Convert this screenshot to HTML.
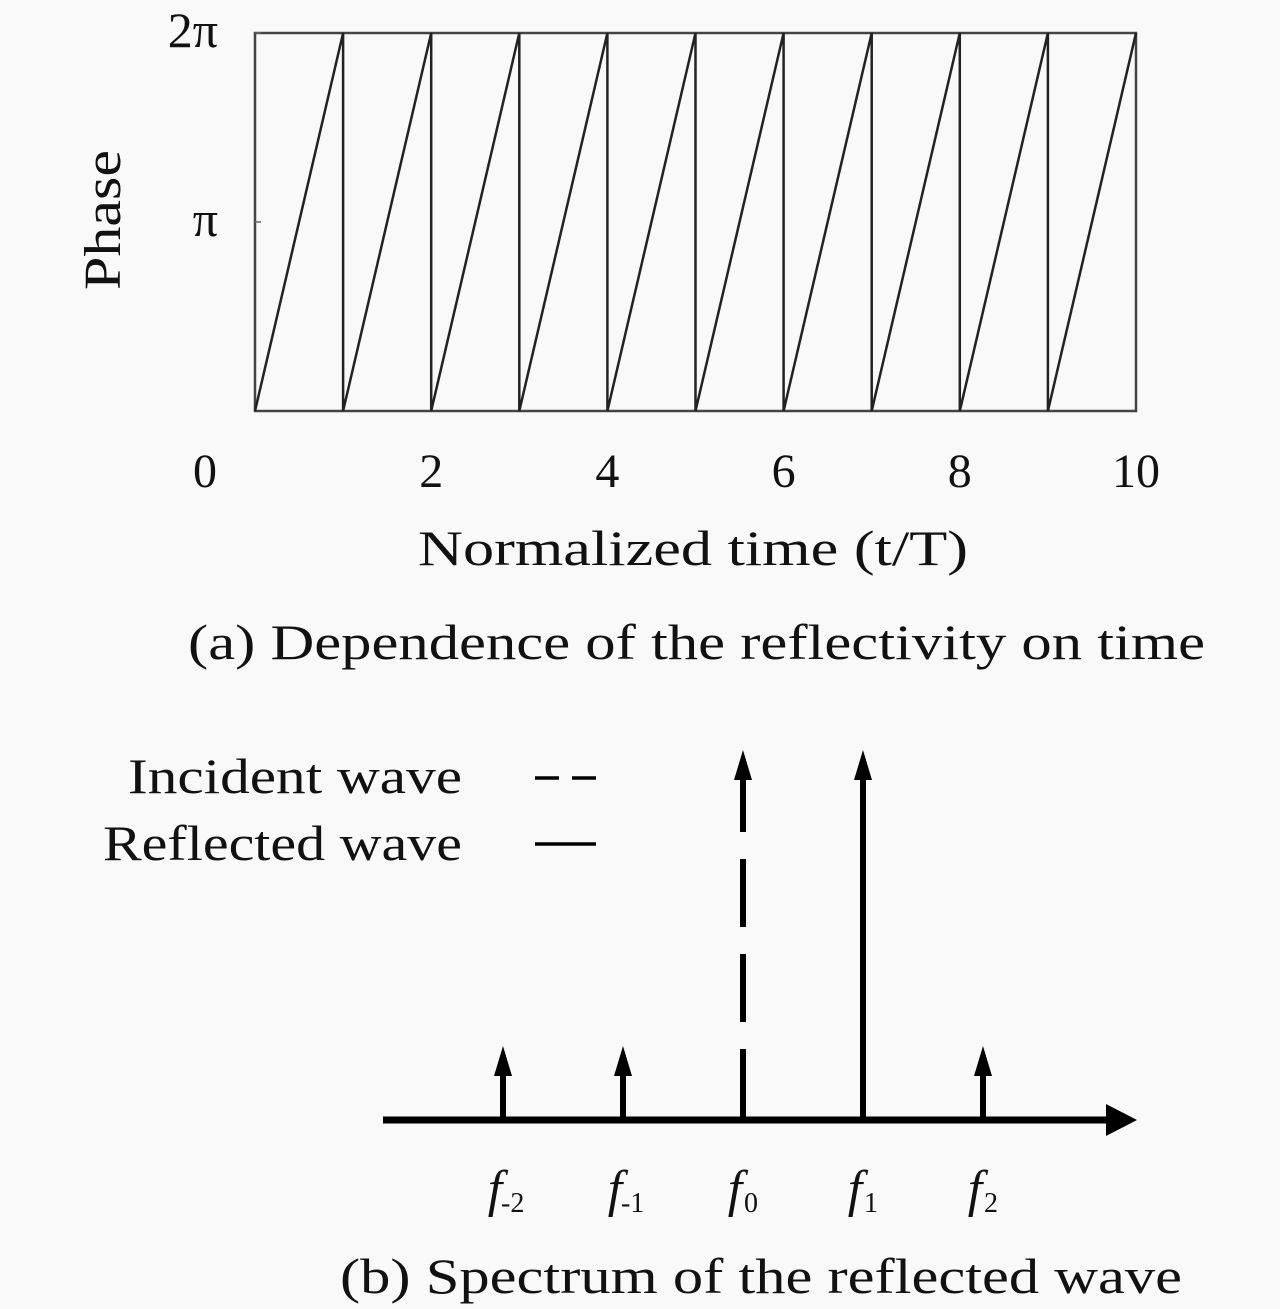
<!DOCTYPE html>
<html><head><meta charset="utf-8">
<style>
html,body{margin:0;padding:0;background:#f9f9f9;}
svg{display:block;}
text{font-family:"Liberation Serif",serif;fill:#111;}
</style></head>
<body>
<svg id="fig" width="1280" height="1309" viewBox="0 0 1280 1309">
<g id="topg"></g>
<g id="botg"></g>
</svg>
<script>
const NS="http://www.w3.org/2000/svg";
// Top chart data
const xTicks=[0,2,4,6,8,10];
const xTickLabels=["0","2","4","6","8","10"];
const yTicks=[Math.PI,2*Math.PI];
const yTickLabels=["π","2π"];
const periods=[0,1,2,3,4,5,6,7,8,9];
const phaseMin=0, phaseMax=2*Math.PI;
// Bottom chart data
const freqLabels=["-2","-1","0","1","2"];
const amplitudes=[0.2,0.2,1,1,0.2];
const isIncident=[false,false,true,false,false];

function mk(tag,attrs,parent){const e=document.createElementNS(NS,tag);for(const k in attrs)e.setAttribute(k,attrs[k]);parent.appendChild(e);return e;}

const topG=document.getElementById('topg');
const X0=255,X1=1136,Y0=411,Y1=33;
const xs=t=>X0+(t-0)/(10-0)*(X1-X0);
const ys=p=>Y0-(p-phaseMin)/(phaseMax-phaseMin)*(Y0-Y1);
let r=mk('rect',{x:X0,y:Y1,width:X1-X0,height:Y0-Y1,fill:'none',stroke:'#444','stroke-width':2.5},topG);


let d='';
periods.forEach((k,i)=>{d+=(i===0?'M':'L')+xs(k)+','+ys(phaseMin)+' L'+xs(k+1)+','+ys(phaseMax)+' ';});
let sp=mk('path',{d:d,fill:'none',stroke:'#222','stroke-width':2.5},topG);


xTicks.forEach((t,i)=>{
  let x=xs(t); if(t===0)x=205;
  const tx=mk('text',{x:x,y:487,'font-size':48,'text-anchor':'middle'},topG);
  tx.textContent=xTickLabels[i];
  
  
});
yTicks.forEach((p,i)=>{
  const tx=mk('text',{x:218,y:ys(p)+14,'font-size':50,'text-anchor':'end'},topG);
  tx.textContent=yTickLabels[i];
  
  
  const tk=mk('line',{x1:X0,x2:X0+6,y1:ys(p),y2:ys(p),stroke:'#666','stroke-width':1.5},topG);
  
  
});
let yt=mk('text',{x:-290,y:120,'font-size':52,transform:'rotate(-90)',textLength:140,lengthAdjust:'spacingAndGlyphs'},topG);
yt.textContent='Phase';


let xt=mk('text',{x:418,y:565,'font-size':50,textLength:550,lengthAdjust:'spacingAndGlyphs'},topG);
xt.textContent='Normalized time (t/T)';


let ca=mk('text',{x:188,y:659,'font-size':50,textLength:1017,lengthAdjust:'spacingAndGlyphs'},topG);
ca.textContent='(a) Dependence of the reflectivity on time';



// bottom
const botG=document.getElementById('botg');
const AY=1120, fx0=503, fstep=120, ampTop=750, ampH=AY-ampTop;
const fxs=i=>fx0+i*fstep;
const ay=a=>AY-a*ampH;
let ax=mk('line',{x1:383,x2:1112,y1:AY,y2:AY,stroke:'#000','stroke-width':7},botG);


let ah=mk('polygon',{points:'1106,1104 1137,1120 1106,1136',fill:'#000'},botG);


freqLabels.forEach((lab,i)=>{
  const x=fxs(i), yTop=ay(amplitudes[i]);
  const g=mk('g',{},botG);
  
  
  const ln=mk('line',{x1:x,x2:x,y1:AY,y2:yTop+26,stroke:'#000','stroke-width':6},g);
  if(isIncident[i]){ln.setAttribute('stroke-dasharray','68 27');ln.setAttribute('stroke-dashoffset','-3');}
  mk('polygon',{points:(x-9)+','+(yTop+30)+' '+x+','+yTop+' '+(x+9)+','+(yTop+30),fill:'#000'},g);
  const t=mk('text',{x:x-8,y:1206,'font-size':52,'font-style':'italic','text-anchor':'middle'},g);
  t.textContent='f';
  const s=mk('text',{x:x+(lab.length>1?-2:1),y:1212,'font-size':28,'text-anchor':'start'},g);
  s.textContent=lab.replace('-','‑');
  
  
});
let l1=mk('text',{x:128,y:793,'font-size':50,textLength:334,lengthAdjust:'spacingAndGlyphs'},botG);
l1.textContent='Incident wave';


let l2=mk('text',{x:103,y:860,'font-size':50,textLength:359,lengthAdjust:'spacingAndGlyphs'},botG);
l2.textContent='Reflected wave';


let ls1=mk('line',{x1:535,x2:596,y1:778,y2:778,stroke:'#000','stroke-width':3.5,'stroke-dasharray':'24 13'},botG);


let ls2=mk('line',{x1:535,x2:596,y1:844,y2:844,stroke:'#000','stroke-width':3.5},botG);


let cb=mk('text',{x:340,y:1293,'font-size':50,textLength:842,lengthAdjust:'spacingAndGlyphs'},botG);
cb.textContent='(b) Spectrum of the reflected wave';


</script>
</body></html>
